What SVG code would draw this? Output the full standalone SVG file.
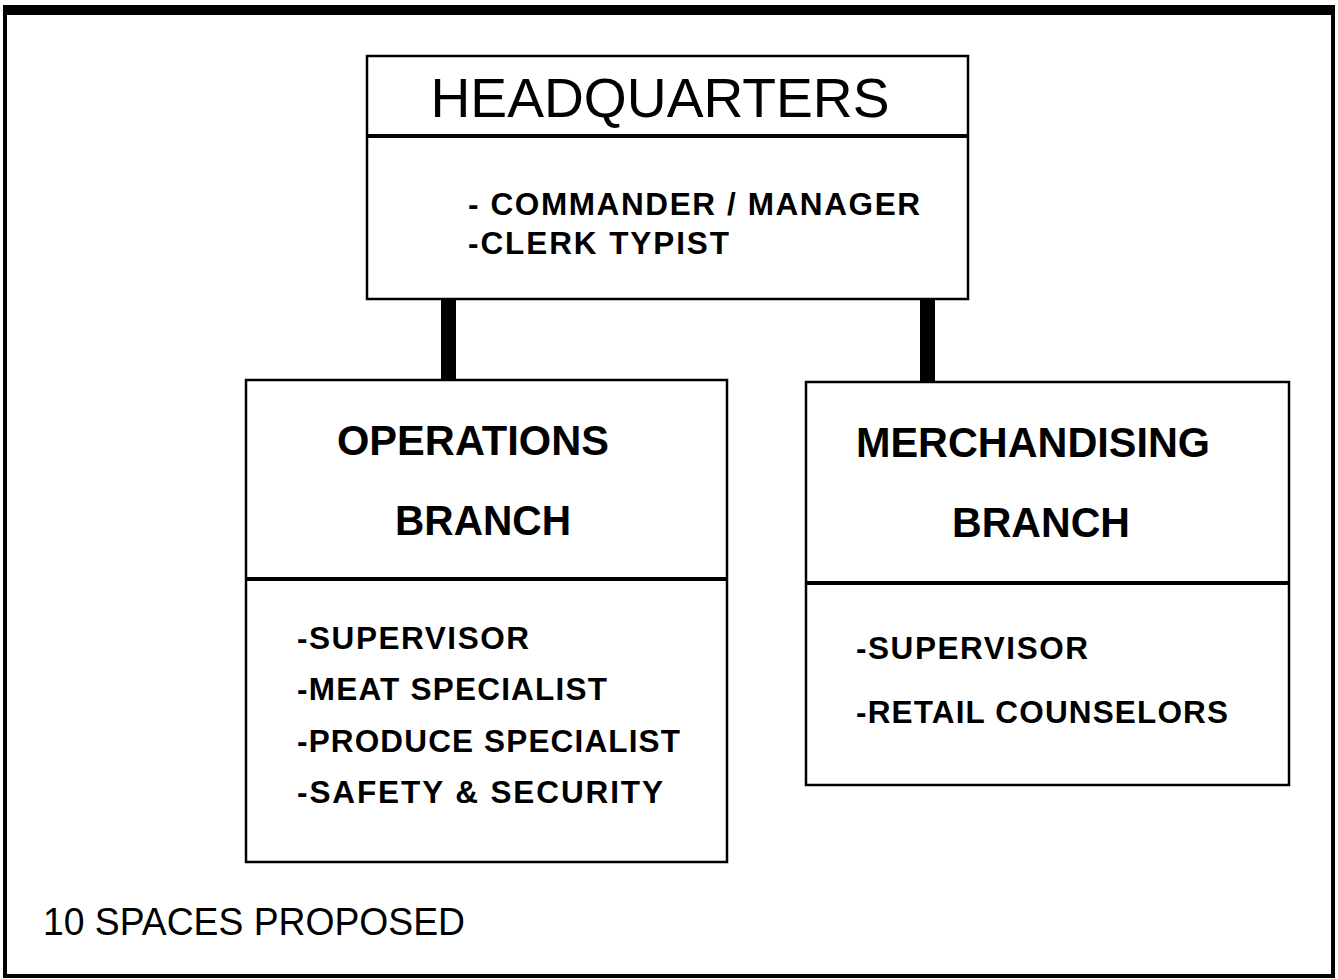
<svg xmlns="http://www.w3.org/2000/svg" width="1338" height="979" viewBox="0 0 1338 979">
<style>
.box{fill:#fff;stroke:#000;stroke-width:2.5}
.div{stroke:#000;stroke-width:4}
.conn{stroke:#000;stroke-width:15}
.t{font-family:"Liberation Sans",Arial,sans-serif;fill:#000}
.title{font-size:56px}
.head{font-size:42px;font-weight:bold}
.item{font-size:31.5px;font-weight:bold}
.note{font-size:38px}
</style>
<rect width="1338" height="979" fill="#fff"/>
<g id="frame">
<line x1="3" y1="10" x2="1335" y2="10" stroke="#000" stroke-width="10"/>
<line x1="5" y1="6" x2="5" y2="977" stroke="#000" stroke-width="4"/>
<line x1="1333" y1="6" x2="1333" y2="977" stroke="#000" stroke-width="4"/>
<line x1="3" y1="976" x2="1335" y2="976" stroke="#000" stroke-width="4"/>
</g>
<g id="connectors">
<line class="conn" x1="448.5" y1="299" x2="448.5" y2="381"/>
<line class="conn" x1="927.5" y1="299" x2="927.5" y2="383"/>
</g>
<g id="headquarters">
<rect class="box" x="367" y="56" width="601" height="243"/>
<line class="div" x1="367" y1="136" x2="968" y2="136"/>
<text class="t title" x="660" y="117" text-anchor="middle" textLength="459" lengthAdjust="spacingAndGlyphs">HEADQUARTERS</text>
<text class="t item" x="468" y="215" textLength="452" lengthAdjust="spacing">- COMMANDER / MANAGER</text>
<text class="t item" x="468" y="254" textLength="261" lengthAdjust="spacing">-CLERK TYPIST</text>
</g>
<g id="operations">
<rect class="box" x="246" y="380" width="481" height="482"/>
<line class="div" x1="246" y1="579" x2="727" y2="579"/>
<text class="t head" x="337" y="455" textLength="272" lengthAdjust="spacingAndGlyphs">OPERATIONS</text>
<text class="t head" x="395" y="535" textLength="176" lengthAdjust="spacingAndGlyphs">BRANCH</text>
<text class="t item" x="297" y="649" textLength="232" lengthAdjust="spacing">-SUPERVISOR</text>
<text class="t item" x="297" y="700" textLength="310" lengthAdjust="spacing">-MEAT SPECIALIST</text>
<text class="t item" x="297" y="752" textLength="383" lengthAdjust="spacing">-PRODUCE SPECIALIST</text>
<text class="t item" x="297" y="803" textLength="366" lengthAdjust="spacing">-SAFETY &amp; SECURITY</text>
</g>
<g id="merchandising">
<rect class="box" x="806" y="382" width="483" height="403"/>
<line class="div" x1="806" y1="583" x2="1289" y2="583"/>
<text class="t head" x="856" y="457" textLength="354" lengthAdjust="spacingAndGlyphs">MERCHANDISING</text>
<text class="t head" x="952" y="537" textLength="178" lengthAdjust="spacingAndGlyphs">BRANCH</text>
<text class="t item" x="856" y="659" textLength="232" lengthAdjust="spacing">-SUPERVISOR</text>
<text class="t item" x="856" y="723" textLength="372" lengthAdjust="spacing">-RETAIL COUNSELORS</text>
</g>
<text class="t note" x="43" y="935" textLength="422" lengthAdjust="spacingAndGlyphs">10 SPACES PROPOSED</text>
</svg>
